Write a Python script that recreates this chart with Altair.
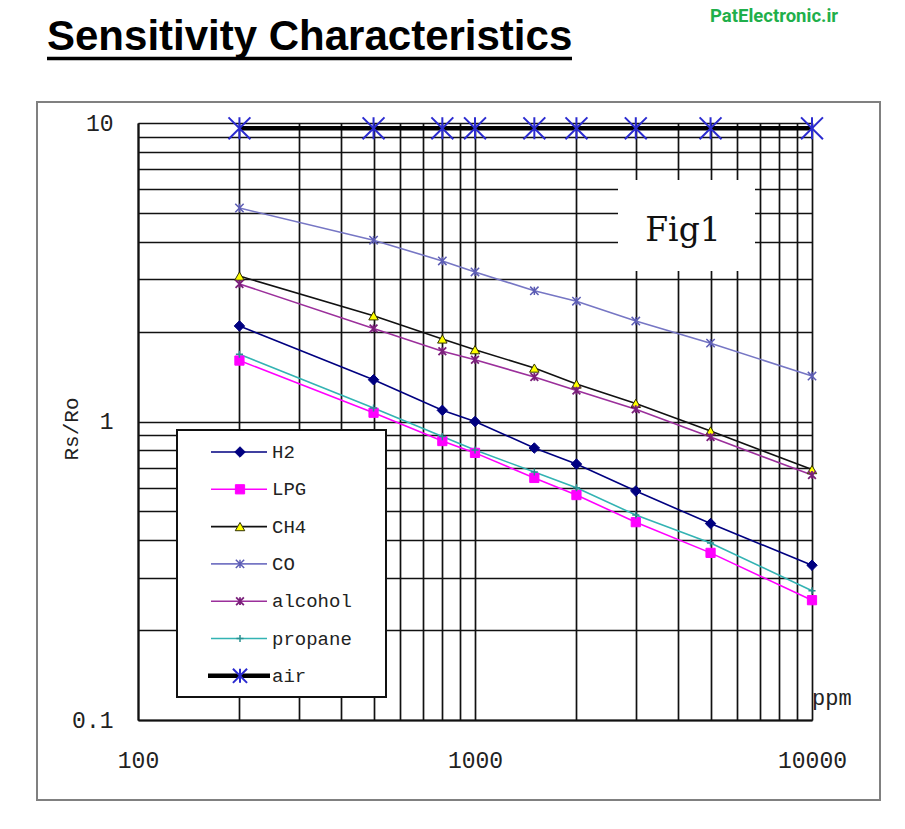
import altair as alt
import pandas as pd

# ---------------- data ----------------
ppm = [200, 500, 800, 1000, 1500, 2000, 3000, 5000, 10000]
h2 = [2.09, 1.38, 1.09, 1.0, 0.815, 0.72, 0.585, 0.455, 0.33]
lpg = [1.60, 1.07, 0.86, 0.785, 0.647, 0.567, 0.46, 0.363, 0.252]
ch4 = [3.07, 2.26, 1.89, 1.74, 1.51, 1.335, 1.15, 0.93, 0.69]
co = [5.19, 4.05, 3.45, 3.17, 2.74, 2.53, 2.17, 1.83, 1.42]
alcohol = [2.89, 2.05, 1.72, 1.61, 1.41, 1.27, 1.10, 0.887, 0.662]
propane = [1.68, 1.11, 0.89, 0.803, 0.677, 0.60, 0.486, 0.392, 0.271]
air = [9.6, 9.6, 9.6, 9.6, 9.6, 9.6, 9.6, 9.6, 9.6]

gases = ["H2", "LPG", "CH4", "CO", "alcohol", "propane", "air"]
values = [h2, lpg, ch4, co, alcohol, propane, air]

x_grid = [100, 200, 300, 400, 500, 600, 700, 800, 900,
          1000, 2000, 3000, 4000, 5000, 6000, 7000, 8000, 9000, 10000]
x_labels = [100, 1000, 10000]
y_grid = [0.1, 0.2, 0.3, 0.4, 0.5, 0.6, 0.7, 0.8, 0.9,
          1, 2, 3, 4, 5, 6, 7, 8, 9, 10]
y_labels = ["0.1", "1", "10"]

rows = []
for g, vals in zip(gases, values):
    for p, v in zip(ppm, vals):
        rows.append({"gas": g, "ppm": p, "rs": v})
df = pd.DataFrame(rows)

STAR = "M-1,-1L1,1M-1,1L1,-1M0,-1L0,1"
PLUS = "M-1,0L1,0M0,-1L0,1"

style = {
    "H2": dict(line="#000080", lw=1.6, shape="diamond", fill="#000080", stroke="#000080", size=110, sw=1),
    "LPG": dict(line="#FF00FF", lw=1.6, shape="square", fill="#FF00FF", stroke="#FF00FF", size=85, sw=1),
    "CH4": dict(line="#111111", lw=1.6, shape="triangle-up", fill="#FFFF00", stroke="#333300", size=90, sw=1),
    "CO": dict(line="#7676C4", lw=1.6, shape=STAR, fill=None, stroke="#5C5CB4", size=70, sw=1.5),
    "alcohol": dict(line="#9B2F9B", lw=1.6, shape=STAR, fill=None, stroke="#7A1F7A", size=60, sw=1.8),
    "propane": dict(line="#33B3B3", lw=1.6, shape=PLUS, fill=None, stroke="#2A9090", size=50, sw=1.5),
    "air": dict(line="#000000", lw=4.5, shape=STAR, fill=None, stroke="#2B2BD0", size=480, sw=2),
}

# ---------------- layout (pixels) ----------------
W, H = 674, 597
PAD_L, PAD_T = 138, 123
MONO = "Liberation Mono"

x_enc = alt.X(
    "ppm:Q",
    scale=alt.Scale(type="log", domain=[100, 10000], nice=False),
    axis=alt.Axis(
        values=x_grid, title=None, grid=True, gridColor="#111111", gridWidth=1.7,
        ticks=False, domain=True, domainColor="#111111", domainWidth=2,
        labelExpr="(datum.value==100||datum.value==1000||datum.value==10000) ? format(datum.value,'d') : ''",
        labelFont=MONO, labelFontSize=23, labelColor="#222222", labelPadding=29,
        labelFlush=False, labelOverlap=False,
    ),
)
y_enc = alt.Y(
    "rs:Q",
    scale=alt.Scale(type="log", domain=[0.1, 10], nice=False),
    axis=alt.Axis(
        values=y_grid, title=None, grid=True, gridColor="#111111", gridWidth=1.7,
        ticks=False, domain=True, domainColor="#111111", domainWidth=2,
        labelExpr="datum.value==0.1 ? '0.1' : (datum.value==1 ? '1' : (datum.value==10 ? '10' : ''))",
        labelFont=MONO, labelFontSize=23, labelColor="#222222", labelPadding=25,
        labelFlush=False, labelOverlap=False,
    ),
)

base = alt.Chart(df)
layers = []
one = pd.DataFrame({"a": [0]})

# outer gray frame
layers.append(
    alt.Chart(one).mark_rect(fill=None, stroke="#808080", strokeWidth=2).encode(
        x=alt.value(37 - PAD_L), x2=alt.value(880 - PAD_L),
        y=alt.value(102 - PAD_T), y2=alt.value(800 - PAD_T),
    )
)

for g in gases:
    s = style[g]
    layers.append(
        base.transform_filter(alt.datum.gas == g)
        .mark_line(color=s["line"], strokeWidth=s["lw"])
        .encode(x=x_enc, y=y_enc)
    )
for g in gases:
    s = style[g]
    kw = dict(shape=s["shape"], size=s["size"], stroke=s["stroke"], strokeWidth=s["sw"], opacity=1)
    if s["fill"]:
        kw.update(filled=True, fill=s["fill"])
    else:
        kw.update(filled=False)
    layers.append(
        base.transform_filter(alt.datum.gas == g).mark_point(**kw).encode(x=x_enc, y=y_enc)
    )

# Fig1 box
layers.append(
    alt.Chart(one).mark_rect(fill="white", stroke=None).encode(
        x=alt.value(618 - PAD_L), x2=alt.value(755 - PAD_L),
        y=alt.value(180 - PAD_T), y2=alt.value(271 - PAD_T),
    )
)
layers.append(
    alt.Chart(one).mark_text(text="Fig1", font="DejaVu Serif", fontSize=33, align="center",
                             baseline="alphabetic", color="#111111").encode(
        x=alt.value(683 - PAD_L), y=alt.value(241 - PAD_T)
    )
)

# legend box
layers.append(
    alt.Chart(one).mark_rect(fill="white", stroke="#111111", strokeWidth=2).encode(
        x=alt.value(177 - PAD_L), x2=alt.value(386 - PAD_L),
        y=alt.value(430 - PAD_T), y2=alt.value(697 - PAD_T),
    )
)
for i, g in enumerate(gases):
    s = style[g]
    yy = 452 + 37.3 * i - PAD_T
    x0, x1 = (208, 270) if g == "air" else (211, 267)
    layers.append(
        alt.Chart(one).mark_rule(color=s["line"], strokeWidth=s["lw"]).encode(
            x=alt.value(x0 - PAD_L), x2=alt.value(x1 - PAD_L), y=alt.value(yy)
        )
    )
    kw = dict(shape=s["shape"], size=s["size"] if g != "air" else 200, stroke=s["stroke"],
              strokeWidth=s["sw"], opacity=1)
    if s["fill"]:
        kw.update(filled=True, fill=s["fill"])
    else:
        kw.update(filled=False)
    layers.append(
        alt.Chart(one).mark_point(**kw).encode(x=alt.value(240 - PAD_L), y=alt.value(yy))
    )
    layers.append(
        alt.Chart(one).mark_text(text=g, font=MONO, fontSize=19, align="left",
                                 baseline="middle", color="#222222").encode(
            x=alt.value(272 - PAD_L), y=alt.value(yy)
        )
    )

# axis title and unit
layers.append(
    alt.Chart(one).mark_text(text="Rs/Ro", font=MONO, fontSize=21, angle=270, align="center",
                             baseline="middle", color="#222222").encode(
        x=alt.value(72 - PAD_L), y=alt.value(429 - PAD_T)
    )
)
layers.append(
    alt.Chart(one).mark_text(text="ppm", font=MONO, fontSize=22, align="left",
                             baseline="middle", color="#222222").encode(
        x=alt.value(812 - PAD_L), y=alt.value(698 - PAD_T)
    )
)

# page title and watermark
layers.append(
    alt.Chart(one).mark_text(text="Sensitivity Characteristics", font="Liberation Sans",
                             fontWeight="bold", fontSize=42, align="left",
                             baseline="alphabetic", color="#000000").encode(
        x=alt.value(47 - PAD_L), y=alt.value(50 - PAD_T)
    )
)
layers.append(
    alt.Chart(one).mark_rule(color="#000000", strokeWidth=3.3).encode(
        x=alt.value(47 - PAD_L), x2=alt.value(572 - PAD_L), y=alt.value(58.5 - PAD_T)
    )
)
layers.append(
    alt.Chart(one).mark_text(text="PatElectronic.ir", font="Roboto", fontWeight="bold",
                             fontSize=18.5, align="left", baseline="alphabetic",
                             color="#1FAF4B").encode(
        x=alt.value(710 - PAD_L), y=alt.value(22 - PAD_T)
    )
)

chart = alt.layer(*layers).properties(
    width=W, height=H,
    autosize=alt.AutoSizeParams(type="none"),
    padding={"left": PAD_L, "top": PAD_T, "right": 905 - PAD_L - W, "bottom": 829 - PAD_T - H},
).configure_view(stroke="#888888", strokeWidth=1.5).configure(background="white")

chart.save("out.html", embed_options={"renderer": "svg", "actions": False})
